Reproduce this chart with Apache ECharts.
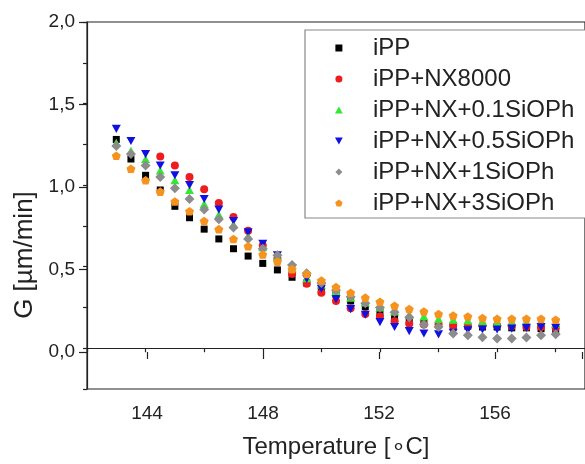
<!DOCTYPE html>
<html>
<head>
<meta charset="utf-8">
<script src="https://cdn.jsdelivr.net/npm/echarts@6/dist/echarts.min.js"></script>
<style>html,body{margin:0;padding:0;background:#fff;}#c{width:585px;height:464px;}</style>
</head>
<body>
<div id="c"></div>
<script>
const temps = [143,143.5,144,144.5,145,145.5,146,146.5,147,147.5,148,148.5,149,149.5,150,150.5,151,151.5,152,152.5,153,153.5,154,154.5,155,155.5,156,156.5,157,157.5,158];
const redTemps = [144.5,145,145.5,146,146.5,147,147.5,148,148.5,149,149.5,150,150.5,151,151.5,152,152.5,153,153.5,154,154.5,155,155.5,156,156.5,157,157.5,158];
const seriesNames = ['iPP','iPP+NX8000','iPP+NX+0.1SiOPh','iPP+NX+0.5SiOPh','iPP+NX+1SiOPh','iPP+NX+3SiOPh'];
const iPP = [1.28,1.16,1.06,0.97,0.87,0.80,0.73,0.67,0.61,0.565,0.52,0.48,0.435,0.40,0.365,0.33,0.29,0.255,0.22,0.19,0.17,0.155,0.145,0.14,0.135,0.13,0.13,0.125,0.125,0.12,0.115];
const nx8000 = [1.175,1.12,1.05,0.975,0.89,0.805,0.72,0.63,0.55,0.455,0.395,0.34,0.29,0.245,0.21,0.195,0.165,0.15,0.145,0.145,0.14,0.135,0.14,0.14,0.135,0.13,0.13,0.125];
const siOPh01 = [1.26,1.21,1.16,1.09,1.03,0.97,0.885,0.82,0.76,0.69,0.62,0.56,0.49,0.43,0.39,0.35,0.31,0.28,0.25,0.225,0.205,0.195,0.18,0.175,0.17,0.165,0.16,0.16,0.16,0.165,0.15];
const siOPh05 = [1.345,1.27,1.19,1.12,1.06,1.0,0.915,0.85,0.78,0.71,0.64,0.57,0.49,0.425,0.365,0.30,0.24,0.205,0.16,0.13,0.105,0.09,0.085,0.095,0.11,0.115,0.115,0.12,0.125,0.13,0.125];
const siOPh1 = [1.24,1.19,1.12,1.05,0.98,0.915,0.85,0.79,0.74,0.67,0.61,0.57,0.51,0.46,0.40,0.355,0.315,0.275,0.25,0.22,0.19,0.145,0.13,0.09,0.08,0.068,0.06,0.06,0.065,0.08,0.085];
const siOPh3 = [1.18,1.10,1.03,0.96,0.90,0.84,0.78,0.73,0.67,0.625,0.575,0.53,0.485,0.455,0.415,0.375,0.34,0.31,0.285,0.26,0.24,0.225,0.21,0.2,0.195,0.185,0.18,0.18,0.18,0.18,0.175];
const xTickLabels = [144,148,152,156];
const yTickLabels = ['0,0','0,5','1,0','1,5','2,0'];

const FONT = 'Liberation Sans, Arial, sans-serif';
const SQ = 'path://M0,0 L10,0 L10,10 L0,10 Z';
const TRI_UP = 'path://M5,0 L10,9 L0,9 Z';
const TRI_DN = 'path://M0,0 L10,0 L5,9 Z';
const DIA = 'path://M5,0 L10,5 L5,10 L0,5 Z';
const CIRC = 'circle';
const PENT = 'path://M0,-10 L9.5,-3.1 L5.9,8.1 L-5.9,8.1 L-9.5,-3.1 Z';
const styles = [
  {color:'#000000', symbol:SQ, size:7},
  {color:'#ee1c1c', symbol:CIRC, size:8},
  {color:'#33e833', symbol:TRI_UP, size:9},
  {color:'#1010e0', symbol:TRI_DN, size:9},
  {color:'#8c8c8c', symbol:DIA, size:10},
  {color:'#f5931e', symbol:PENT, size:9}
];
const xs = [temps, redTemps, temps, temps, temps, temps];
const ys = [iPP, nx8000, siOPh01, siOPh05, siOPh1, siOPh3];

const series = seriesNames.map((n,i)=>({
  name:n, type:'scatter', xAxisIndex:0, yAxisIndex:0,
  symbol:styles[i].symbol, symbolSize:styles[i].size,
  symbolKeepAspect:true,
  itemStyle:{color:styles[i].color, opacity:1},
  data: xs[i].map((t,k)=>[t, ys[i][k]]),
  animation:false
}));

const chart = echarts.init(document.getElementById('c'), null, {renderer:'canvas'});
chart.setOption({
  backgroundColor:'#fff',
  animation:false,
  grid:[
    {left:87, top:22, width:501, height:371, show:true, borderColor:'#222', borderWidth:1.2, backgroundColor:'transparent'},
    {left:147, top:22, width:441, height:330, show:false}
  ],
  xAxis:[
    {gridIndex:0, type:'value', min:142, max:159, interval:2, position:'bottom',
     axisLine:{show:true, lineStyle:{color:'#222', width:1.2}},
     axisTick:{show:true, inside:false, length:4, lineStyle:{color:'#222', width:1.2}},
     axisLabel:{show:false}, splitLine:{show:false},
     name:'Temperature [\u2218C]', nameLocation:'middle', nameGap:46,
     nameTextStyle:{fontFamily:FONT, fontSize:24, color:'#222'}},
    {gridIndex:1, type:'value', min:144, max:159, interval:4, position:'bottom', offset:41,
     axisLine:{show:false},
     axisTick:{show:true, inside:false, length:7, lineStyle:{color:'#222', width:1.2}},
     axisLabel:{show:true, margin:11, fontFamily:FONT, fontSize:19, color:'#222',
       formatter:v=> xTickLabels.indexOf(v)>=0 ? String(v) : ''},
     splitLine:{show:false}}
  ],
  yAxis:[
    {gridIndex:0, type:'value', min:-0.25, max:2.0, interval:0.25,
     axisLine:{show:true, lineStyle:{color:'#222', width:1.2}},
     axisTick:{show:true, inside:false, length:4, lineStyle:{color:'#222', width:1.2}},
     axisLabel:{show:false}, splitLine:{show:false}},
    {gridIndex:1, type:'value', min:0, max:2.0, interval:0.5, offset:60,
     axisLine:{show:false},
     axisTick:{show:true, inside:false, length:8, lineStyle:{color:'#222', width:1.2}},
     axisLabel:{show:true, margin:12, fontFamily:FONT, fontSize:19, color:'#222',
       formatter:v=> yTickLabels[Math.round(v/0.5)] || ''},
     splitLine:{show:false}}
  ],
  graphic:[
    {type:'text', x:25, y:255, rotation:Math.PI/2,
     style:{text:'G [\u00b5m/min]', font:'26px Liberation Sans', fill:'#222', align:'center', verticalAlign:'middle'}}
  ],
  legend:{
    show:true, orient:'vertical', left:305, top:30,
    data:seriesNames.map((n,i)=>({name:n, icon:styles[i].symbol})),
    itemWidth:58, itemHeight:7, itemGap:7,
    symbolKeepAspect:true,
    padding:[6,25,3,30],
    borderColor:'#888', borderWidth:1.2, backgroundColor:'#fff',
    textStyle:{fontFamily:FONT, fontSize:24, color:'#222'},
    selectedMode:false
  },
  series: series
});
</script>
</body>
</html>
